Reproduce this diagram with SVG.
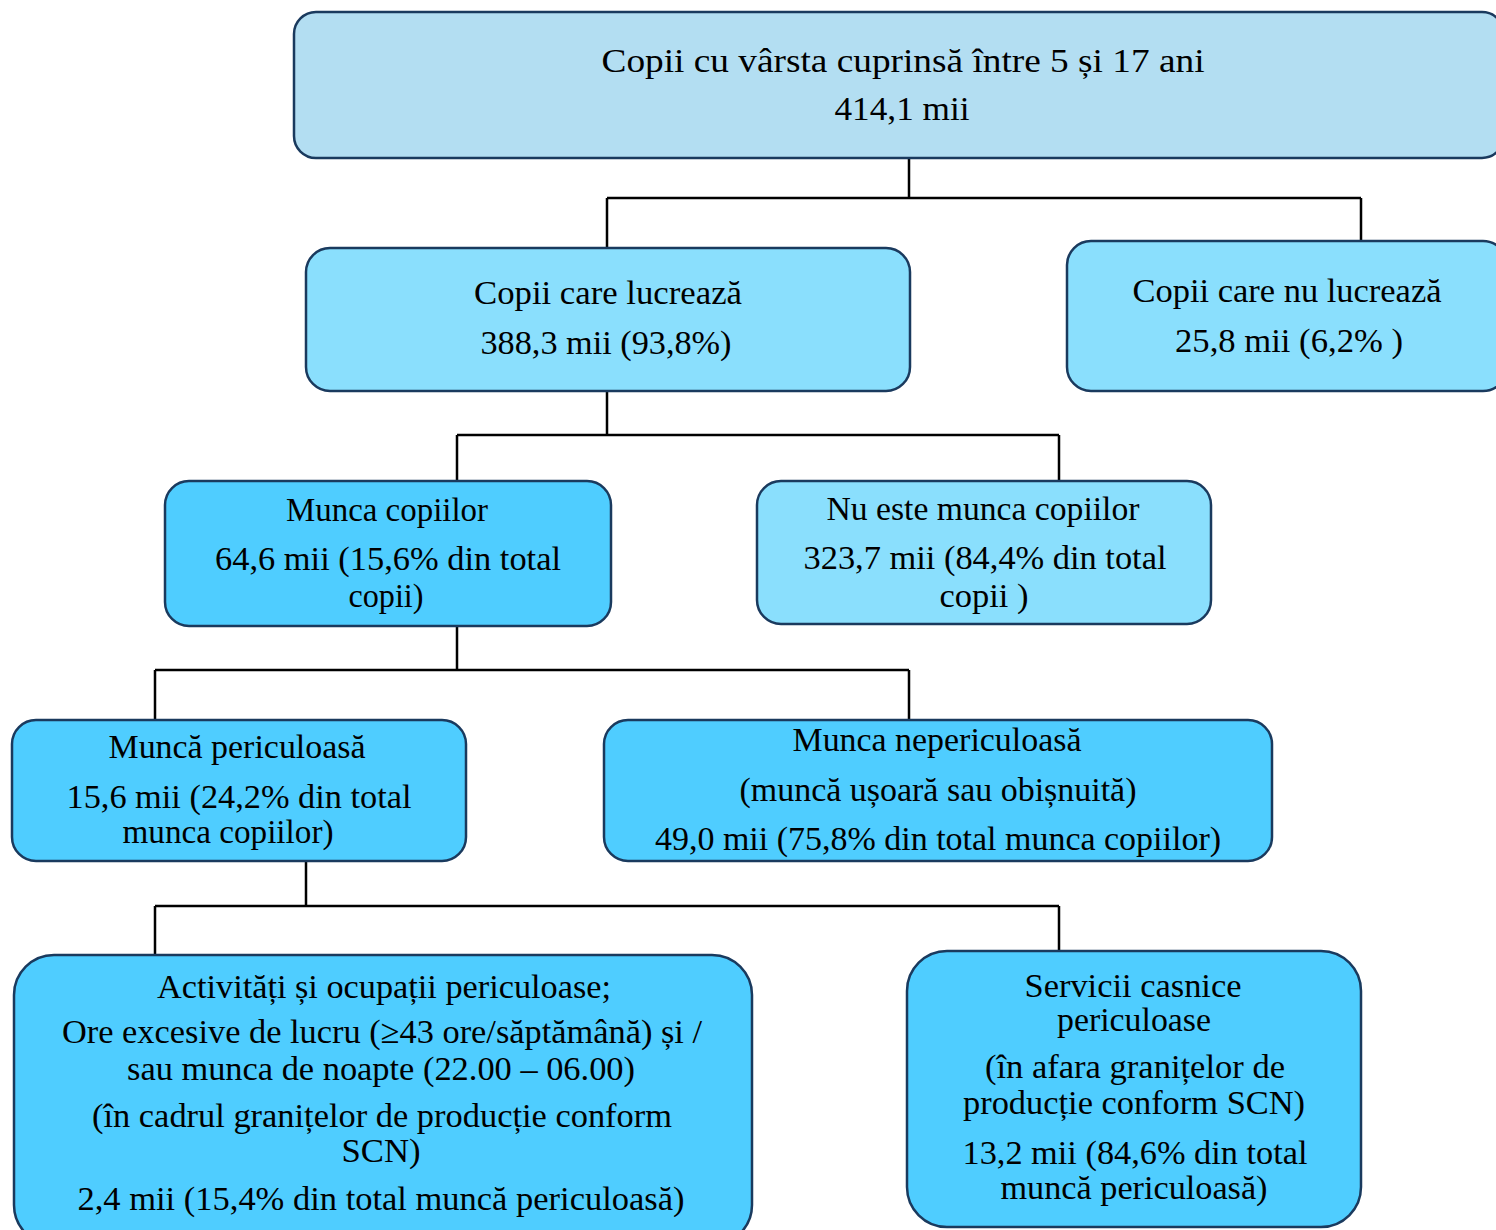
<svg xmlns="http://www.w3.org/2000/svg" width="1496" height="1230" viewBox="0 0 1496 1230">
<style>
.box{stroke:#1A3A5E;stroke-width:2.5}
.l1{fill:#B3DEF2}
.l2{fill:#8ADFFD}
.l3{fill:#4FCDFF}
text{font-family:"Liberation Serif","Times New Roman",serif;font-size:34px;fill:#000;text-anchor:middle}
.conn{fill:none;stroke:#000;stroke-width:2.5}
</style>
<rect width="1496" height="1230" fill="#fff"/>
<g id="connectors">
<path class="conn" d="M909 158V198M607 198H1361M607 198V248M1361 198V241"/>
<path class="conn" d="M607 391V435M457 435H1059M457 435V481M1059 435V481"/>
<path class="conn" d="M457 626V670M155 670H909M155 670V720M909 670V720"/>
<path class="conn" d="M306 861V906M155 906H1059M155 906V955M1059 906V951"/>
</g>
<g id="n1">
<rect class="box l1" x="294" y="12" width="1210" height="146" rx="22"/>
<text x="903" y="72" textLength="603" lengthAdjust="spacingAndGlyphs">Copii cu vârsta cuprinsă  între  5 și 17 ani</text>
<text x="902" y="120" textLength="135" lengthAdjust="spacingAndGlyphs">414,1 mii</text>
</g>
<g id="n2">
<rect class="box l2" x="306" y="248" width="604" height="143" rx="24"/>
<text x="608" y="304" textLength="268" lengthAdjust="spacingAndGlyphs">Copii  care lucrează</text>
<text x="606" y="354" textLength="251" lengthAdjust="spacingAndGlyphs">388,3  mii (93,8%)</text>
</g>
<g id="n3">
<rect class="box l2" x="1067" y="241" width="440" height="150" rx="24"/>
<text x="1287" y="302" textLength="309" lengthAdjust="spacingAndGlyphs">Copii  care nu lucrează</text>
<text x="1289" y="352" textLength="228" lengthAdjust="spacingAndGlyphs">25,8  mii  (6,2% )</text>
</g>
<g id="n4">
<rect class="box l3" x="165" y="481" width="446" height="145" rx="24"/>
<text x="387" y="521" textLength="202" lengthAdjust="spacingAndGlyphs">Munca copiilor</text>
<text x="388" y="570" textLength="346" lengthAdjust="spacingAndGlyphs">64,6  mii  (15,6% din  total</text>
<text x="386" y="607" textLength="75" lengthAdjust="spacingAndGlyphs">copii)</text>
</g>
<g id="n5">
<rect class="box l2" x="757" y="481" width="454" height="143" rx="24"/>
<text x="983" y="520" textLength="313" lengthAdjust="spacingAndGlyphs">Nu este munca copiilor</text>
<text x="985" y="569" textLength="363" lengthAdjust="spacingAndGlyphs">323,7  mii (84,4% din  total</text>
<text x="984" y="607" textLength="89" lengthAdjust="spacingAndGlyphs">copii  )</text>
</g>
<g id="n6">
<rect class="box l3" x="12" y="720" width="454" height="141" rx="24"/>
<text x="237" y="758" textLength="257" lengthAdjust="spacingAndGlyphs">Muncă periculoasă</text>
<text x="239" y="808" textLength="345" lengthAdjust="spacingAndGlyphs">15,6 mii  (24,2% din total</text>
<text x="228" y="843" textLength="211" lengthAdjust="spacingAndGlyphs">munca copiilor)</text>
</g>
<g id="n7">
<rect class="box l3" x="604" y="720" width="668" height="141" rx="24"/>
<text x="937" y="751" textLength="289" lengthAdjust="spacingAndGlyphs">Munca nepericuloasă</text>
<text x="938" y="801" textLength="397" lengthAdjust="spacingAndGlyphs">(muncă ușoară sau obișnuită)</text>
<text x="938" y="850" textLength="566" lengthAdjust="spacingAndGlyphs">49,0 mii  (75,8% din total munca copiilor)</text>
</g>
<g id="n8">
<rect class="box l3" x="14" y="955" width="738" height="290" rx="40"/>
<text x="384" y="998" textLength="454" lengthAdjust="spacingAndGlyphs">Activități  și ocupații  periculoase;</text>
<text x="382" y="1043" textLength="640" lengthAdjust="spacingAndGlyphs">Ore excesive de lucru (≥43 ore/săptămână) și /</text>
<text x="381" y="1080" textLength="508" lengthAdjust="spacingAndGlyphs">sau munca de noapte (22.00 – 06.00)</text>
<text x="382" y="1127" textLength="580" lengthAdjust="spacingAndGlyphs">(în cadrul granițelor  de producție  conform</text>
<text x="381" y="1162" textLength="79" lengthAdjust="spacingAndGlyphs">SCN)</text>
<text x="381" y="1210" textLength="607" lengthAdjust="spacingAndGlyphs">2,4 mii (15,4%  din total muncă periculoasă)</text>
</g>
<g id="n9">
<rect class="box l3" x="907" y="951" width="454" height="276" rx="40"/>
<text x="1133" y="997" textLength="217" lengthAdjust="spacingAndGlyphs">Servicii  casnice</text>
<text x="1134" y="1031" textLength="154" lengthAdjust="spacingAndGlyphs">periculoase</text>
<text x="1135" y="1078" textLength="300" lengthAdjust="spacingAndGlyphs">(în afara granițelor de</text>
<text x="1134" y="1114" textLength="342" lengthAdjust="spacingAndGlyphs">producție  conform SCN)</text>
<text x="1135" y="1164" textLength="345" lengthAdjust="spacingAndGlyphs">13,2 mii  (84,6% din total</text>
<text x="1134" y="1199" textLength="267" lengthAdjust="spacingAndGlyphs">muncă periculoasă)</text>
</g>
</svg>
